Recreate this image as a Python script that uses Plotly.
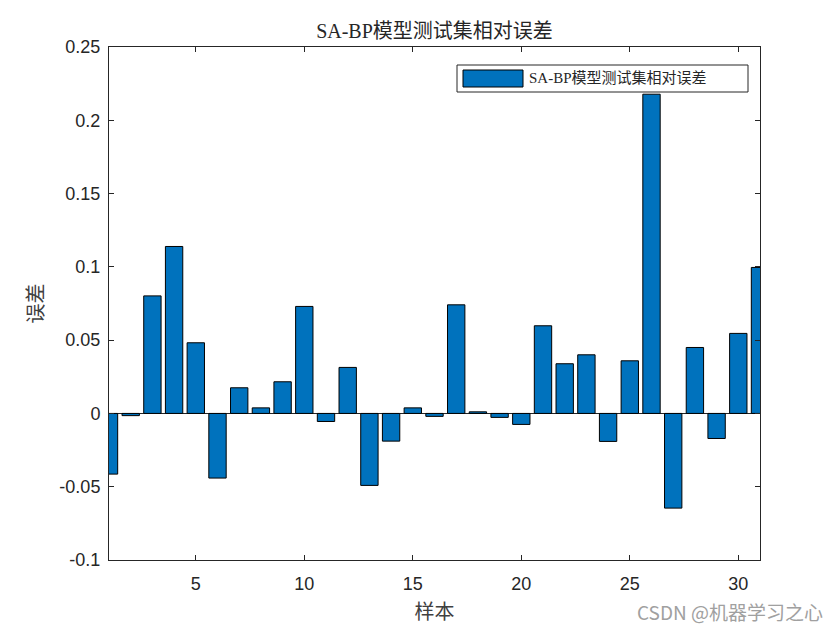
import plotly.graph_objects as go

samples = list(range(1, 32))
rel_error = [-0.0414, -0.0015, 0.0802, 0.1139, 0.0482, -0.0441, 0.0175, 0.0038, 0.0216, 0.0730,
             -0.0055, 0.0314, -0.0491, -0.0189, 0.0038, -0.0020, 0.0741, 0.0011, -0.0027, -0.0075,
             0.0598, 0.0339, 0.0400, -0.0191, 0.0359, 0.2178, -0.0646, 0.0450, -0.0171, 0.0546, 0.0996]
y_ticks = [-0.1, -0.05, 0, 0.05, 0.1, 0.15, 0.2, 0.25]
y_ticktext = ["-0.1", "-0.05", "0", "0.05", "0.1", "0.15", "0.2", "0.25"]
x_ticks = [5, 10, 15, 20, 25, 30]
series_name = "SA-BP模型测试集相对误差"

BAR_COLOR = "#0072BD"
CJK = "Liberation Serif, Noto Sans CJK SC"
TICKF = "Liberation Sans, Arial"

fig = go.Figure()
fig.add_trace(go.Bar(x=samples, y=rel_error, width=0.8, name=series_name,
                     marker=dict(color=BAR_COLOR, line=dict(color="black", width=1)),
                     showlegend=False))

fig.update_layout(
    width=832, height=622,
    paper_bgcolor="white", plot_bgcolor="white",
    margin=dict(l=101, r=80, t=39, b=70, autoexpand=False),
    title=dict(text=series_name, x=0.5, xanchor="center", xref="paper",
               y=1 - 23 / 622, yanchor="middle", font=dict(family=CJK, size=20, color="#262626")),
    xaxis=dict(range=[1, 31], tickvals=x_ticks, ticks="inside", ticklen=5, tickcolor="#262626",
               showline=True, linecolor="#262626", linewidth=1, mirror="allticks",
               showgrid=False, zeroline=False, ticklabelstandoff=7,
               tickfont=dict(family=TICKF, size=18, color="#262626"),
               title=dict(text="样本", font=dict(family=CJK, size=20, color="#404040"), standoff=12)),
    yaxis=dict(range=[-0.1, 0.25], tickvals=y_ticks, ticktext=y_ticktext, ticks="inside",
               ticklen=5, tickcolor="#262626", showline=True, linecolor="#262626", linewidth=1,
               mirror="allticks", showgrid=False, zeroline=True, zerolinecolor="#262626",
               zerolinewidth=1, ticklabelstandoff=4,
               tickfont=dict(family=TICKF, size=18, color="#262626"),
               title=dict(text="误差", font=dict(family=CJK, size=20, color="#404040"), standoff=10)),
    bargap=0.2,
)

# legend (drawn to match the wide MATLAB swatch)
fig.add_shape(type="rect", xref="paper", yref="paper",
              x0=(457 - 109) / 651, x1=(748 - 109) / 651,
              y0=(560 - 92) / 513, y1=(560 - 65) / 513,
              line=dict(color="#262626", width=1), fillcolor="white")
fig.add_shape(type="rect", xref="paper", yref="paper",
              x0=(463 - 109) / 651, x1=(523 - 109) / 651,
              y0=(560 - 87) / 513, y1=(560 - 70) / 513,
              line=dict(color="black", width=1), fillcolor=BAR_COLOR)
fig.add_annotation(text=series_name, xref="paper", yref="paper",
                   x=(527 - 109) / 651, y=(560 - 78.5) / 513, xanchor="left", yanchor="middle",
                   showarrow=False, font=dict(family=CJK, size=15, color="#262626"))
fig.add_annotation(text="CSDN @机器学习之心", xref="paper", yref="paper",
                   x=(825 - 109) / 651, y=(560 - 611) / 513, xanchor="right", yanchor="middle",
                   showarrow=False, font=dict(family="Noto Sans CJK SC", size=19, color="#a0a0a0"))

fig.write_html("out.html")
